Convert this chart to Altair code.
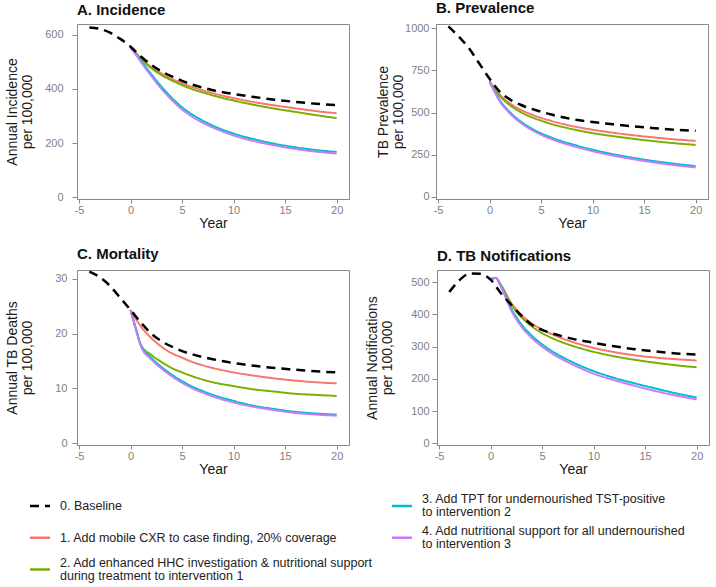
import altair as alt
import pandas as pd

# ---------------- data ----------------
years_base = [-4, -3, -2, -1, 0, 1, 2, 3, 4, 5, 6, 7, 8, 10, 12, 14, 16, 18, 20]
years_int = [0, 0.5, 1, 2, 3, 4, 5, 6, 7, 8, 10, 12, 14, 16, 18, 20]

scenario_names = [
    "0. Baseline",
    "1. Add mobile CXR to case finding, 20% coverage",
    "2. Add enhanced HHC investigation & nutritional support|during treatment to intervention 1",
    "3. Add TPT for undernourished TST-positive|to intervention 2",
    "4. Add nutritional support for all undernourished|to intervention 3",
]
scenario_colors = ["#000000", "#F8766D", "#7CAE00", "#00BFC4", "#C77CFF"]
scenario_dashes = [[9, 6], [1, 0], [1, 0], [1, 0], [1, 0]]

# A. Incidence
inc_base = [627, 622, 608, 585, 556, 520, 489, 465, 446, 430, 416, 405, 395, 381, 370, 360, 352, 345, 340]
inc_s1 = [556, 534, 513, 481, 457, 437, 421, 407, 395, 384, 366, 351, 339, 328, 318, 310]
inc_s2 = [556, 533, 511, 477, 451, 431, 414, 399, 387, 376, 357, 341, 327, 315, 303, 292]
inc_s3 = [552, 530, 505, 455, 408, 367, 332, 305, 283, 264, 235, 214, 197, 184, 174, 167]
inc_s4 = [552, 527, 500, 448, 400, 359, 324, 297, 275, 257, 228, 207, 191, 178, 168, 161]

# B. Prevalence
prev_base = [1010, 950, 880, 790, 700, 622, 576, 546, 523, 505, 488, 473, 461, 444, 430, 418, 407, 398, 392]
prev_s1 = [685, 640, 605, 553, 517, 490, 468, 450, 434, 420, 398, 380, 365, 352, 341, 332]
prev_s2 = [685, 638, 598, 542, 503, 474, 452, 432, 416, 402, 378, 360, 344, 330, 318, 308]
prev_s3 = [680, 625, 572, 500, 448, 408, 377, 352, 330, 312, 280, 253, 231, 212, 196, 183]
prev_s4 = [680, 620, 566, 493, 440, 400, 368, 343, 321, 303, 271, 245, 223, 204, 188, 175]

# C. Mortality
mort_base = [31.3, 30.3, 28.7, 26.5, 24.3, 22.0, 20.0, 18.6, 17.6, 16.8, 16.2, 15.7, 15.3, 14.6, 14.1, 13.7, 13.4, 13.1, 12.9]
mort_s1 = [24.3, 22.7, 21.3, 19.2, 17.6, 16.4, 15.6, 14.8, 14.2, 13.7, 12.9, 12.3, 11.8, 11.4, 11.1, 10.9]
mort_s2 = [24.3, 21.0, 17.9, 16.1, 14.8, 13.7, 12.9, 12.2, 11.6, 11.1, 10.4, 9.8, 9.4, 9.0, 8.8, 8.6]
mort_s3 = [24.3, 21.0, 17.9, 15.6, 13.9, 12.5, 11.3, 10.3, 9.5, 8.8, 7.7, 6.8, 6.2, 5.7, 5.4, 5.2]
mort_s4 = [24.3, 20.8, 17.7, 15.3, 13.6, 12.2, 11.0, 10.0, 9.2, 8.5, 7.4, 6.6, 6.0, 5.5, 5.2, 5.0]

# D. TB Notifications
notif_base = [470, 507, 527, 526, 508, 466, 430, 396, 368, 352, 341, 332, 324, 312, 301, 292, 285, 279, 275]
notif_s1 = [510, 513, 492, 436, 398, 372, 353, 338, 325, 314, 296, 283, 273, 266, 261, 257]
notif_s2 = [510, 513, 491, 431, 391, 363, 342, 326, 313, 302, 284, 270, 259, 250, 242, 236]
notif_s3 = [510, 513, 489, 419, 369, 334, 307, 285, 267, 251, 224, 203, 186, 170, 155, 142]
notif_s4 = [508, 514, 486, 413, 362, 327, 300, 278, 260, 244, 216, 196, 178, 162, 148, 136]

panel_series = {
    "A": [inc_base, inc_s1, inc_s2, inc_s3, inc_s4],
    "B": [prev_base, prev_s1, prev_s2, prev_s3, prev_s4],
    "C": [mort_base, mort_s1, mort_s2, mort_s3, mort_s4],
    "D": [notif_base, notif_s1, notif_s2, notif_s3, notif_s4],
}

rows = []
for key, series in panel_series.items():
    for i, vals in enumerate(series):
        yrs = years_base if i == 0 else years_int
        for yr, v in zip(yrs, vals):
            rows.append({"panel": key, "scenario": scenario_names[i], "year": yr, "value": v})
df = pd.DataFrame(rows)

# legend entries: first three in the left column, last two in the right column
leg_df = pd.DataFrame({
    "scenario": scenario_names,
    "col": [i // 3 for i in range(len(scenario_names))],
    "row": [i % 3 for i in range(len(scenario_names))],
})

# ---------------- styling ----------------
FONT = "Liberation Sans"
color_scale = alt.Scale(domain=scenario_names, range=scenario_colors)
dash_scale = alt.Scale(domain=scenario_names, range=scenario_dashes)


def panel(key, title, ytitle, ydom, yticks, label_pad, title_pad):
    d = df[df.panel == key]
    base = alt.Chart(d).encode(
        x=alt.X("year:Q", scale=alt.Scale(domain=[-5.2, 21.2], nice=False, zero=False),
                axis=alt.Axis(values=[-5, 0, 5, 10, 15, 20], title="Year",
                              labelExpr="datum.value + ''")),
        y=alt.Y("value:Q", scale=alt.Scale(domain=ydom, nice=False, zero=False),
                axis=alt.Axis(values=yticks, title=ytitle, labelPadding=label_pad,
                              titlePadding=title_pad, format="d")),
        color=alt.Color("scenario:N", scale=color_scale, legend=None),
        strokeDash=alt.StrokeDash("scenario:N", scale=dash_scale, legend=None),
    )
    lines = base.transform_filter(alt.datum.scenario != scenario_names[0]).mark_line(
        strokeWidth=2, interpolate="monotone")
    bl = base.transform_filter(alt.datum.scenario == scenario_names[0]).mark_line(
        strokeWidth=2.5, interpolate="monotone")
    return alt.layer(lines, bl).properties(
        width=272, height=175,
        title=alt.TitleParams(title, anchor="start", frame="group", fontSize=15,
                              fontWeight="bold", font=FONT, color="#111111", offset=5),
    )


pA = panel("A", "A. Incidence", ["Annual Incidence", "per 100,000"], [-7, 640], [0, 200, 400, 600], 9, 10)
pB = panel("B", "B. Prevalence", ["TB Prevalence", "per 100,000"], [-12, 1024], [0, 250, 500, 750, 1000], 2, -1)
pC = panel("C", "C. Mortality", ["Annual TB Deaths", "per 100,000"], [-0.35, 31.6], [0, 10, 20, 30], 5, 20)
pD = panel("D", "D. TB Notifications", ["Annual Notifications", "per 100,000"], [-5.5, 538], [0, 100, 200, 300, 400, 500], 3, 16)

row1 = alt.hconcat(pA, pB, spacing=26)
row2 = alt.hconcat(pC, pD, spacing=15)
grid = alt.vconcat(row1, row2, spacing=15)

# ---------------- legend (two columns) ----------------
leg_base = alt.Chart(leg_df).encode(
    x=alt.X("col:Q", scale=alt.Scale(domain=[0, 1], range=[-47, 315]), axis=None),
)
y_row = alt.Y("row:Q", scale=alt.Scale(domain=[0, 2], range=[16, 79.5]), axis=None)
leg_sym = leg_base.mark_rule(strokeWidth=2.5, x2Offset=20).encode(
    x2="col:Q",
    y=y_row,
    color=alt.Color("scenario:N", scale=color_scale, legend=None),
    strokeDash=alt.StrokeDash("scenario:N", scale=dash_scale, legend=None),
)
# centre multi-line labels on their key (first line is placed at the anchor)
leg_txt = leg_base.transform_calculate(
    trow="datum.row - (length(split(datum.scenario, '|')) - 1) * 0.205"
).mark_text(
    align="left", baseline="middle", dx=30, lineBreak="|", lineHeight=13,
    font=FONT, fontSize=12.5, color="#222222",
).encode(
    y=alt.Y("trow:Q", scale=alt.Scale(domain=[0, 2], range=[16, 79.5]), axis=None),
    text="scenario:N",
)
legend = alt.layer(leg_sym, leg_txt).properties(
    width=560, height=88, view=alt.ViewConfig(stroke="transparent"),
)

chart = alt.vconcat(grid, legend, spacing=12).properties(
    padding={"left": 5, "top": 0, "right": 2, "bottom": 0},
    background="white",
).configure_axis(
    labelFont=FONT, labelFontSize=11, labelColor="#7f7f7f",
    titleFont=FONT, titleFontSize=14, titleFontWeight="normal", titleColor="#1a1a1a",
    domainColor="#8a8a8a", tickColor="#8a8a8a", grid=False, tickSize=5,
).configure_axisX(
    tickSize=4, labelPadding=1, titlePadding=1,
).configure_axisY(
    titleLineHeight=15,
).configure_view(
    stroke="#8a8a8a", strokeWidth=1,
)

chart.save("out.html", embed_options={"renderer": "svg", "actions": False})
